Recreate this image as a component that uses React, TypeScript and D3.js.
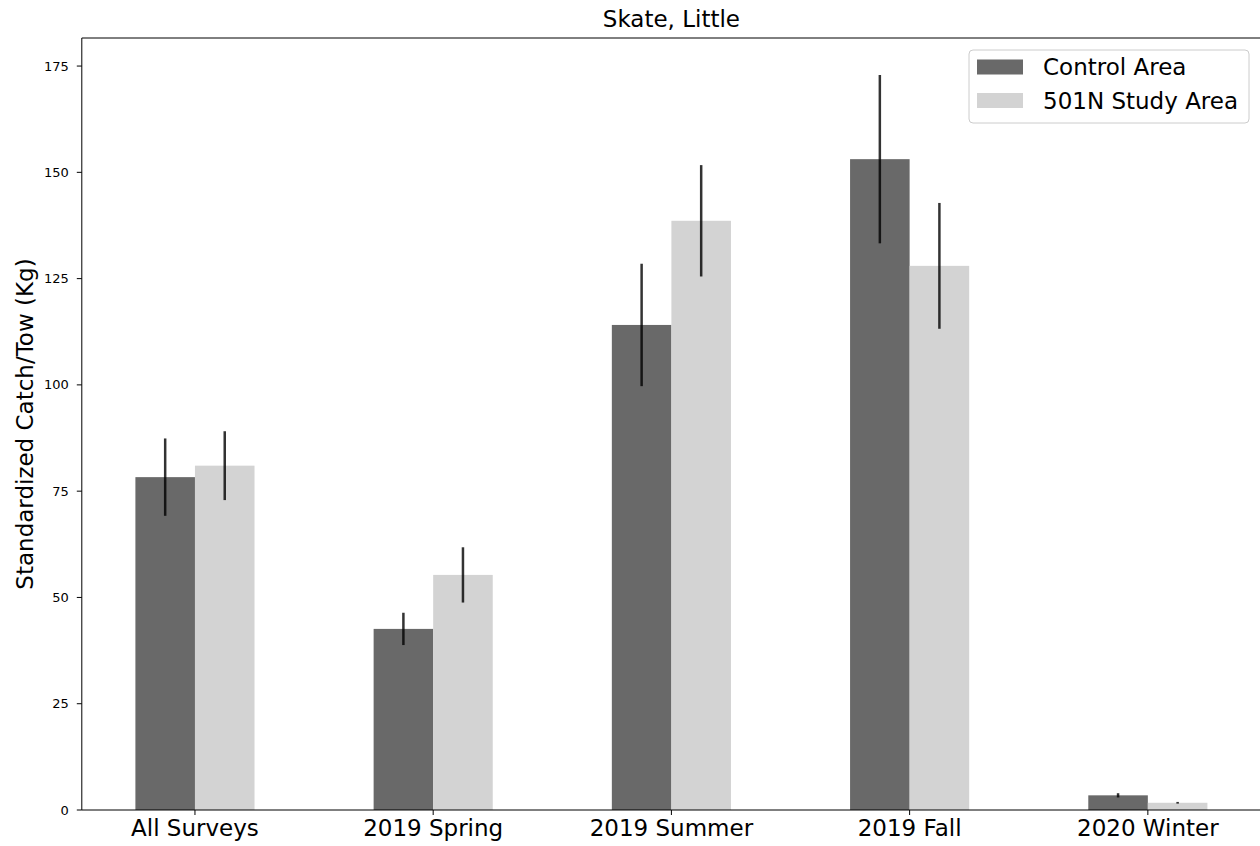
import React, { useEffect, useRef } from "react";
import * as d3 from "d3";

const categories = ["All Surveys", "2019 Spring", "2019 Summer", "2019 Fall", "2020 Winter"];
const seriesNames = ["Control Area", "501N Study Area"];
const controlValues = [78.3, 42.6, 114.1, 153.1, 3.45];
const controlErrors = [9.1, 3.8, 14.4, 19.8, 0.5];
const studyValues = [81.0, 55.3, 138.6, 128.0, 1.7];
const studyErrors = [8.1, 6.5, 13.1, 14.8, 0.2];
const yTicks = [0, 25, 50, 75, 100, 125, 150, 175];
const title = "Skate, Little";
const yLabel = "Standardized Catch/Tow (Kg)";
const colors = ["#696969", "#d3d3d3"];

export default function App() {
  const ref = useRef<SVGSVGElement>(null);
  useEffect(() => {
    const svg = d3.select(ref.current);
    svg.selectAll("*").remove();
    const left = 81.8, right = 1261, top = 38, bottom = 810;
    const font = "DejaVu Sans, sans-serif";
    const big = 23;

    const x = d3.scaleLinear().domain([-0.475, 4.475]).range([left, right]);
    const y = d3.scaleLinear().domain([0, 181.6]).range([bottom, top]);
    const bw = 0.25;

    const series = [
      { vals: controlValues, errs: controlErrors, off: -bw / 2, color: colors[0] },
      { vals: studyValues, errs: studyErrors, off: bw / 2, color: colors[1] },
    ];

    const g = svg.append("g");
    series.forEach((s) => {
      g.selectAll(null)
        .data(s.vals)
        .enter()
        .append("rect")
        .attr("x", (_, i) => x(i + s.off - bw / 2))
        .attr("width", (_, i) => x(i + s.off + bw / 2) - x(i + s.off - bw / 2))
        .attr("y", (d) => y(d))
        .attr("height", (d) => y(0) - y(d))
        .attr("fill", s.color);
    });
    series.forEach((s) => {
      g.selectAll(null)
        .data(s.vals)
        .enter()
        .append("line")
        .attr("x1", (_, i) => x(i + s.off))
        .attr("x2", (_, i) => x(i + s.off))
        .attr("y1", (d, i) => y(d - s.errs[i]))
        .attr("y2", (d, i) => y(d + s.errs[i]))
        .attr("stroke", "#000")
        .attr("stroke-opacity", 0.8)
        .attr("stroke-width", 2.5);
    });

    // spines
    svg.append("line").attr("x1", left).attr("x2", left).attr("y1", top).attr("y2", bottom).attr("stroke", "#000").attr("stroke-width", 1);
    svg.append("line").attr("x1", left).attr("x2", right).attr("y1", top).attr("y2", top).attr("stroke", "#000").attr("stroke-width", 1);
    svg.append("line").attr("x1", left).attr("x2", right).attr("y1", bottom).attr("y2", bottom).attr("stroke", "#000").attr("stroke-width", 1);
    svg.append("line").attr("x1", right).attr("x2", right).attr("y1", top).attr("y2", bottom).attr("stroke", "#000").attr("stroke-width", 1);

    // y ticks
    const yt = svg.append("g");
    yTicks.forEach((t) => {
      yt.append("line").attr("x1", left - 5).attr("x2", left).attr("y1", y(t)).attr("y2", y(t)).attr("stroke", "#000");
      yt.append("text").attr("x", left - 13).attr("y", y(t)).attr("dy", "0.35em")
        .attr("text-anchor", "end").attr("font-family", font).attr("font-size", 13).attr("fill", "#000").text(String(t));
    });

    // x ticks
    categories.forEach((c, i) => {
      svg.append("line").attr("x1", x(i)).attr("x2", x(i)).attr("y1", bottom).attr("y2", bottom + 5).attr("stroke", "#000");
      svg.append("text").attr("x", x(i)).attr("y", 836).attr("text-anchor", "middle")
        .attr("font-family", font).attr("font-size", big).attr("fill", "#000").text(c);
    });

    // title
    svg.append("text").attr("x", (left + right) / 2).attr("y", 27).attr("text-anchor", "middle")
      .attr("font-family", font).attr("font-size", big).attr("fill", "#000").text(title);

    // y label
    svg.append("text").attr("transform", `translate(33,${(top + bottom) / 2}) rotate(-90)`)
      .attr("text-anchor", "middle").attr("font-family", font).attr("font-size", big).attr("fill", "#000").text(yLabel);

    // legend
    const lg = svg.append("g");
    lg.append("rect").attr("x", 969).attr("y", 50).attr("width", 280).attr("height", 73).attr("rx", 4)
      .attr("fill", "#fff").attr("fill-opacity", 0.8).attr("stroke", "#ccc").attr("stroke-width", 1);
    seriesNames.forEach((n, i) => {
      const cy = 67 + i * 33.5;
      lg.append("rect").attr("x", 977).attr("y", cy - 7.5).attr("width", 46).attr("height", 15).attr("fill", colors[i]);
      lg.append("text").attr("x", 1043).attr("y", cy).attr("dy", "0.35em").attr("font-family", font)
        .attr("font-size", big).attr("fill", "#000").text(n);
    });
  }, []);
  return (
    <svg ref={ref} width={1260} height={846} style={{ position: "absolute", left: 0, top: 0, background: "#fff" }} />
  );
}
